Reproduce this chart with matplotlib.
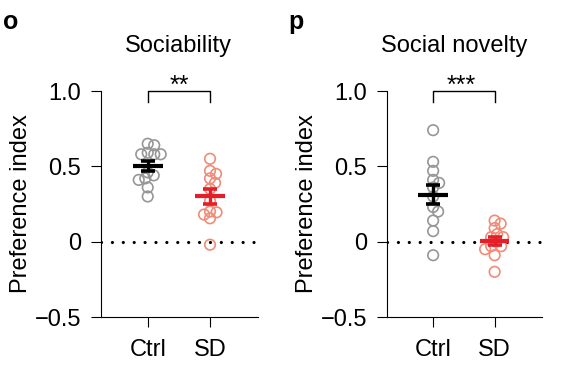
import numpy as np
import matplotlib
matplotlib.use('Agg')
import matplotlib.pyplot as plt
from matplotlib.transforms import blended_transform_factory

plt.rcParams['font.family'] = ['Liberation Sans', 'DejaVu Sans']

groups = ['Ctrl', 'SD']
titles = ['Sociability', 'Social novelty']
panel_letters = ['o', 'p']
sig_labels = ['**', '***']
ylabel = 'Preference index'
yticks = [-0.5, 0, 0.5, 1.0]
yticklabels = ['\u22120.5', '0', '0.5', '1.0']

soc_ctrl = [0.65, 0.64, 0.58, 0.58, 0.59, 0.58, 0.46, 0.41, 0.44, 0.42, 0.36, 0.30]
soc_sd = [0.55, 0.47, 0.45, 0.42, 0.39, 0.35, 0.27, 0.20, 0.18, 0.195, 0.155, -0.02]
nov_ctrl = [0.74, 0.53, 0.47, 0.39, 0.41, 0.36, 0.30, 0.23, 0.20, 0.14, 0.07, -0.09]
nov_sd = [0.14, 0.12, 0.09, 0.05, 0.03, 0.03, 0.0, -0.03, -0.03, -0.05, -0.09, -0.20]

panels = [[soc_ctrl, soc_sd], [nov_ctrl, nov_sd]]

point_colors = ['#979797', '#F08C78']
mean_colors = ['#000000', '#E3202A']

fig = plt.figure(figsize=(5.64, 3.70), dpi=100)
ax_rects = [[101/564, 53/370, 157/564, 226/370],
            [387/564, 53/370, 155/564, 226/370]]
title_x = [0.5, 0.35]
star_x = [0.5, 0.45]
letter_x = [3/564, 288/564]


def swarm_x(ax, values, xc, d_px=6.5, step=0.5):
    vals = np.asarray(values, dtype=float)
    pts = ax.transData.transform(np.column_stack([np.full(len(vals), xc), vals]))
    ys = pts[:, 1]
    x0 = pts[0, 0]
    order = np.argsort(-ys)
    placed = []
    offs = np.zeros(len(vals))
    for i in order:
        best = None
        k = 0
        while best is None:
            cands = [0.0] if k == 0 else [k * step, -k * step]
            for o in cands:
                if all((o - po) ** 2 + (ys[i] - py) ** 2 >= d_px ** 2 for po, py in placed):
                    best = o
                    break
            k += 1
        placed.append((best, ys[i]))
        offs[i] = best
    xs = ax.transData.inverted().transform(np.column_stack([x0 + offs, ys]))[:, 0]
    return xs


for p, data in enumerate(panels):
    ax = fig.add_axes(ax_rects[p])
    ax.set_xlim(-0.75, 1.77)
    ax.set_ylim(-0.5, 1.0)
    for s in ['top', 'right']:
        ax.spines[s].set_visible(False)
    ax.spines['left'].set_bounds(-0.5, 1.0)
    for s in ['left', 'bottom']:
        ax.spines[s].set_linewidth(0.8)
    ax.set_yticks(yticks)
    ax.set_yticklabels(yticklabels)
    ax.set_xticks(range(len(groups)))
    ax.set_xticklabels(groups)
    ax.tick_params(axis='y', length=7.5, width=0.8, pad=7, labelsize=17)
    ax.tick_params(axis='x', length=7.5, width=0.8, pad=8, labelsize=17)
    ax.set_ylabel(ylabel, fontsize=17, labelpad=2)

    # dotted zero line
    ax.plot([-0.75, 1.77], [0, 0], color='black', lw=2.3,
            linestyle=(0, (0.01, 3.4)), dash_capstyle='round', zorder=1)

    for g, vals in enumerate(data):
        xs = swarm_x(ax, vals, g)
        ax.scatter(xs, vals, s=7.6 ** 2, facecolors='none',
                   edgecolors=point_colors[g], linewidths=1.2, zorder=3)
        m = np.mean(vals)
        se = np.std(vals, ddof=1) / np.sqrt(len(vals))
        ax.hlines(m, g - 0.24, g + 0.24, color=mean_colors[g], lw=3, zorder=5)
        ax.errorbar(g, m, yerr=se, color=mean_colors[g], elinewidth=2.4,
                    capsize=5, capthick=2.6, fmt='none', zorder=5)

    # significance bracket
    ax.plot([0, 0, 1, 1], [0.93, 1.0, 1.0, 0.93], color='black', lw=1.0,
            clip_on=False, zorder=4)
    ax.text(star_x[p], 0.985, sig_labels[p], ha='center', va='baseline',
            fontsize=18, clip_on=False)

    trans = blended_transform_factory(ax.transData, ax.transAxes)
    ax.text(title_x[p], 1.173, titles[p], transform=trans, ha='center',
            va='baseline', fontsize=17)

    fig.text(letter_x[p], (370 - 29) / 370, panel_letters[p], fontsize=18,
             fontweight='bold', ha='left', va='baseline')

fig.savefig('out.png', dpi=100)
